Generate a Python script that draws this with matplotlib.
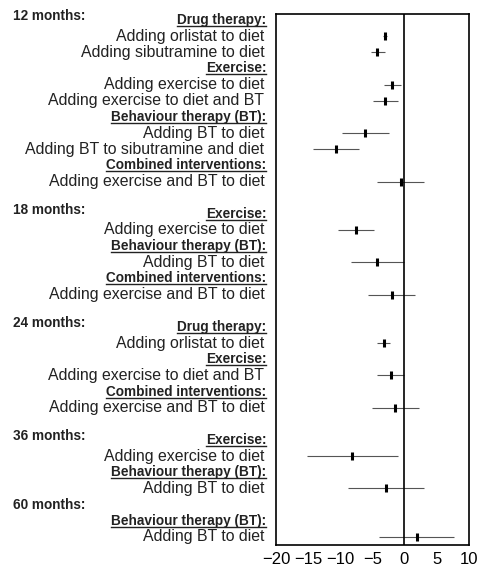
import matplotlib
matplotlib.use('Agg')
import matplotlib.pyplot as plt
import matplotlib.transforms as mtransforms
from matplotlib.lines import Line2D

plt.rcParams['font.family'] = ['Liberation Sans', 'DejaVu Sans']

# follow-up periods, and whether the period name sits on its own line
periods = ['12 months:', '18 months:', '24 months:', '36 months:', '60 months:']
own_line = [False, False, False, False, True]

# one entry per comparison
period_of = [0, 0, 0, 0, 0, 0, 0,
             1, 1, 1,
             2, 2, 2,
             3, 3,
             4]
heading = ['Drug therapy:', 'Drug therapy:', 'Exercise:', 'Exercise:',
           'Behaviour therapy (BT):', 'Behaviour therapy (BT):', 'Combined interventions:',
           'Exercise:', 'Behaviour therapy (BT):', 'Combined interventions:',
           'Drug therapy:', 'Exercise:', 'Combined interventions:',
           'Exercise:', 'Behaviour therapy (BT):',
           'Behaviour therapy (BT):']
labels = ['Adding orlistat to diet', 'Adding sibutramine to diet',
          'Adding exercise to diet', 'Adding exercise to diet and BT',
          'Adding BT to diet', 'Adding BT to sibutramine and diet',
          'Adding exercise and BT to diet',
          'Adding exercise to diet', 'Adding BT to diet', 'Adding exercise and BT to diet',
          'Adding orlistat to diet', 'Adding exercise to diet and BT',
          'Adding exercise and BT to diet',
          'Adding exercise to diet', 'Adding BT to diet',
          'Adding BT to diet']
mean = [-3.0, -4.2, -1.9, -3.0, -6.1, -10.6, -0.6,
        -7.6, -4.2, -2.0,
        -3.2, -2.1, -1.4,
        -8.2, -2.9,
        1.9]
lower = [-3.3, -5.2, -3.2, -4.9, -9.8, -14.2, -4.2,
         -10.4, -8.4, -5.6,
         -4.2, -4.2, -5.0,
         -15.2, -8.8,
         -3.9]
upper = [-2.7, -3.1, -0.5, -1.0, -2.4, -7.1, 3.0,
         -4.8, 0.0, 1.6,
         -2.3, 0.0, 2.3,
         -1.0, 3.1,
         7.7]

fig = plt.figure(figsize=(4.79, 5.67), dpi=100)
ax = fig.add_axes([0.5762, 0.0388, 0.4023, 0.9365])

# work out which line each heading / comparison goes on
row = -1
prev_period, prev_head = None, None
period_rows = []
head_rows = []
est_rows = []
for i in range(len(labels)):
    p = period_of[i]
    if p != prev_period:
        if prev_period is not None:
            row += 1
        if own_line[p]:
            period_rows.append((periods[p], row if prev_period is not None else row + 1))
            row += 1 if prev_period is not None else 2
            head_rows.append((heading[i], row))
        else:
            row += 1
            period_rows.append((periods[p], row - 0.25))
            head_rows.append((heading[i], row))
        prev_head = heading[i]
    elif heading[i] != prev_head:
        row += 1
        head_rows.append((heading[i], row))
        prev_head = heading[i]
    row += 1
    est_rows.append(row)
    prev_period = p

# confidence intervals and point estimates
for y, m, lo, hi in zip(est_rows, mean, lower, upper):
    ax.plot([lo, hi], [y, y], color='#555555', lw=0.8, solid_capstyle='butt')
    ax.plot([m], [y], marker='|', color='black', ms=6, mew=2.2)

ax.axvline(0, color='black', lw=1.2)
ax.set_xlim(-20, 10)
ax.set_ylim(32.5, -0.37)
ax.set_xticks([-20, -15, -10, -5, 0, 5, 10])
ax.tick_params(axis='x', length=0, pad=5, labelsize=12)
ax.set_yticks([])
for s in ax.spines.values():
    s.set_linewidth(1.2)

trans = mtransforms.blended_transform_factory(fig.transFigure, ax.transData)

for y, txt in zip(est_rows, labels):
    ax.text(0.552, y, txt, transform=trans, ha='right', va='center',
            fontsize=11.4, color='#222222', clip_on=False)

head_texts = []
for txt, y in head_rows:
    t = ax.text(0.556, y, txt, transform=trans, ha='right', va='center',
                fontsize=9.8, fontweight='bold', color='#222222', clip_on=False)
    head_texts.append(t)

for txt, y in period_rows:
    ax.text(0.027, y, txt, transform=trans, ha='left', va='center',
            fontsize=9.8, fontweight='bold', color='#222222', clip_on=False)

# underline the headings
fig.canvas.draw()
renderer = fig.canvas.get_renderer()
W, H = fig.bbox.width, fig.bbox.height
for t in head_texts:
    bb = t.get_window_extent(renderer)
    yline = (bb.y0 + 1.0) / H
    fig.add_artist(Line2D([bb.x0 / W, bb.x1 / W], [yline, yline],
                          color='#222222', lw=1.0))

fig.savefig('out.png', dpi=100)
